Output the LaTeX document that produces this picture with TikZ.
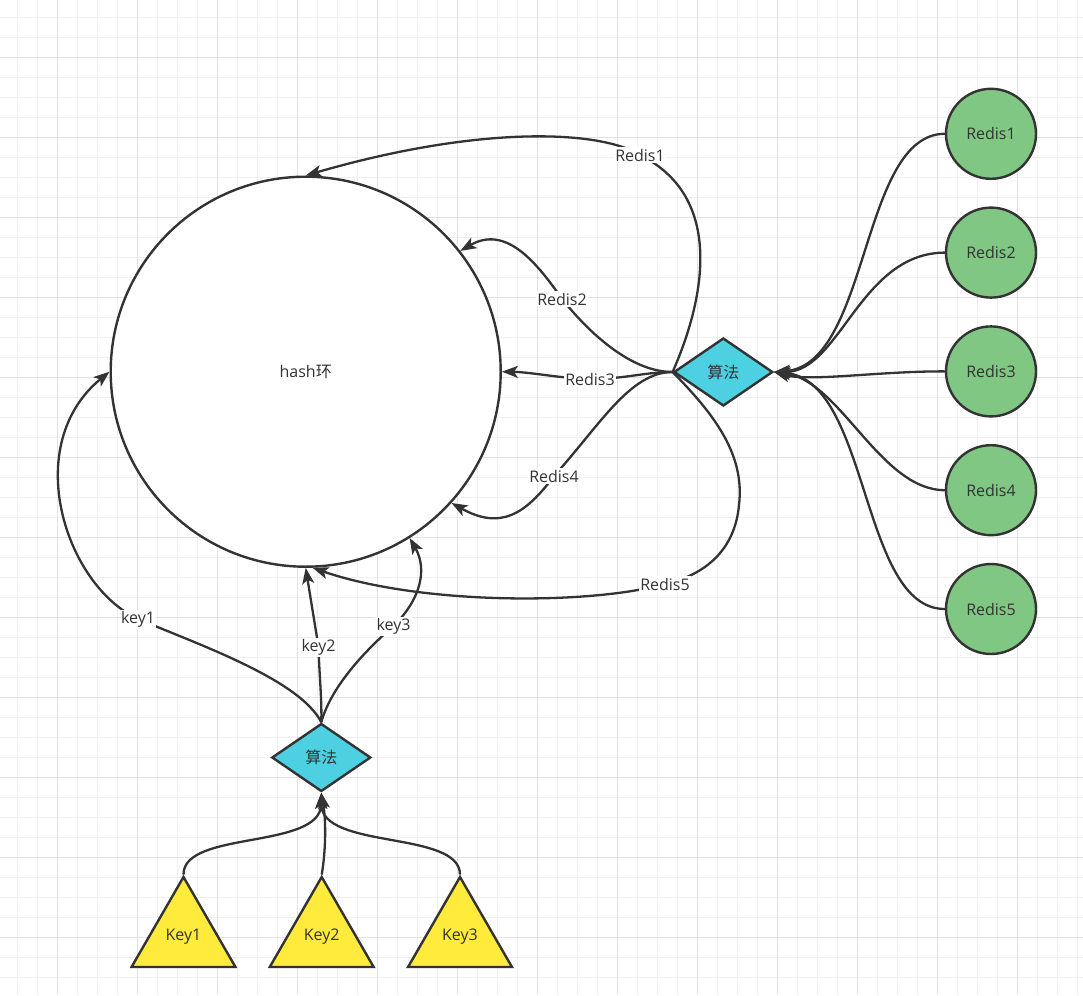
\documentclass[tikz,border=0pt]{standalone}
\usepackage{fontspec}
\setmainfont{Open Sans}
\newfontfamily\cjk{Noto Sans CJK SC}
\usetikzlibrary{arrows.meta,shapes.geometric}
\definecolor{ink}{HTML}{333333}
\definecolor{gridminor}{HTML}{F0F0F0}
\definecolor{gridmajor}{HTML}{E3E3E3}
\definecolor{redisgreen}{HTML}{81C784}
\definecolor{algocyan}{HTML}{4DD0E1}
\definecolor{keyyellow}{HTML}{FFEB3B}
\begin{document}
\begin{tikzpicture}[x=1pt,y=-1pt,
  every node/.style={text=ink, font=\fontsize{16}{19}\selectfont},
  conn/.style={draw=ink, line width=2.3pt, -{Stealth[length=16pt,width=12pt,inset=4pt]}},
  lbl/.style={fill=white, inner sep=1.5pt},
  ring/.style={circle, draw=ink, line width=2.4pt, fill=white, minimum size=390pt, inner sep=0pt},
  redis/.style={circle, draw=ink, line width=2.4pt, fill=redisgreen, minimum size=90pt, inner sep=0pt},
  algo/.style={diamond, draw=ink, line width=2.4pt, fill=algocyan, minimum width=99pt, minimum height=68pt, aspect=1.45, inner sep=0pt},
  keytri/.style={regular polygon, regular polygon sides=3, draw=ink, line width=2.4pt, fill=keyyellow, minimum size=120pt, inner sep=0pt}
]
\useasboundingbox (0,0) rectangle (1083,995);
\fill[white] (0,0) rectangle (1083,995);
% grid
\foreach \i in {0,...,53} {\draw[gridminor, line width=1pt] ({17.3+20*\i},0) -- ({17.3+20*\i},995);}
\foreach \i in {0,...,48} {\draw[gridminor, line width=1pt] (0,{17.3+20*\i}) -- (1083,{17.3+20*\i});}
\foreach \i in {0,...,12} {\draw[gridmajor, line width=1pt] ({57.3+80*\i},0) -- ({57.3+80*\i},995);}
\foreach \i in {0,...,11} {\draw[gridmajor, line width=1pt] (0,{57.3+80*\i}) -- (1083,{57.3+80*\i});}

% nodes
\node[ring] (ring) at (305.7,371.7) {hash{\cjk 环}};
\node[redis] (r1) at (991,133.8) {Redis1};
\node[redis] (r2) at (991,252.6) {Redis2};
\node[redis] (r3) at (991,371.4) {Redis3};
\node[redis] (r4) at (991,490.2) {Redis4};
\node[redis] (r5) at (991,609) {Redis5};
\node[algo] (d2) at (723.3,372) {\cjk 算法};
\node[algo] (d1) at (321.3,757.5) {\cjk 算法};
\node[keytri] (k1) at (183.5,937) {Key1};
\node[keytri] (k2) at (321.7,937) {Key2};
\node[keytri] (k3) at (460,937) {Key3};

% Redis -> algorithm
\draw[conn] (r1.west) .. controls (860,134) and (870,365) .. (d2.east);
\draw[conn] (r2.west) .. controls (860,253) and (840,372) .. (d2.east);
\draw[conn] (r3.west) .. controls (880,371) and (810,382) .. (d2.east);
\draw[conn] (r4.west) .. controls (880,490) and (840,380) .. (d2.east);
\draw[conn] (r5.west) .. controls (860,609) and (870,380) .. (d2.east);

% algorithm -> hash ring
\draw[conn] (d2.west) .. controls (700,310) and (730,200) .. (640,155) node[lbl]{Redis1}
  .. controls (600,130) and (480,125) .. (ring.north);
\draw[conn] (d2.west) .. controls (635,372) and (595,340) .. (562,299) node[lbl]{Redis2}
  .. controls (535,260) and (505,225) .. (ring.38);
\draw[conn] (d2.west) .. controls (645,372) and (625,379) .. (590,379) node[lbl]{Redis3}
  .. controls (565,379) and (530,372) .. (ring.east);
\draw[conn] (d2.west) .. controls (630,372) and (600,425) .. (554,476) node[lbl]{Redis4}
  .. controls (525,515) and (500,530) .. (ring.-42);
\draw[conn] (d2.west) .. controls (715,415) and (745,455) .. (739,505)
  .. controls (735,550) and (705,575) .. (665,584) node[lbl]{Redis5}
  .. controls (590,605) and (420,605) .. (ring.-88);

% keys -> algorithm
\draw[conn] (k1.corner 1) .. controls (183,830) and (321,850) .. (d1.south);
\draw[conn] (k2.corner 1) .. controls (326,850) and (326,820) .. (d1.south);
\draw[conn] (k3.corner 1) .. controls (460,830) and (321,850) .. (d1.south);

% algorithm -> hash ring
\draw[conn] (d1.north) .. controls (300,680) and (200,645) .. (138,619) node[lbl]{key1}
  .. controls (65,585) and (20,445) .. (ring.west);
\draw[conn] (d1.north) .. controls (322,700) and (319,670) .. (318.5,647) node[lbl]{key2}
  -- (ring.-90);
\draw[conn] (d1.north) .. controls (330,690) and (360,655) .. (393.5,626) node[lbl]{key3}
  .. controls (420,600) and (428,570) .. (ring.-58);
\end{tikzpicture}
\end{document}
